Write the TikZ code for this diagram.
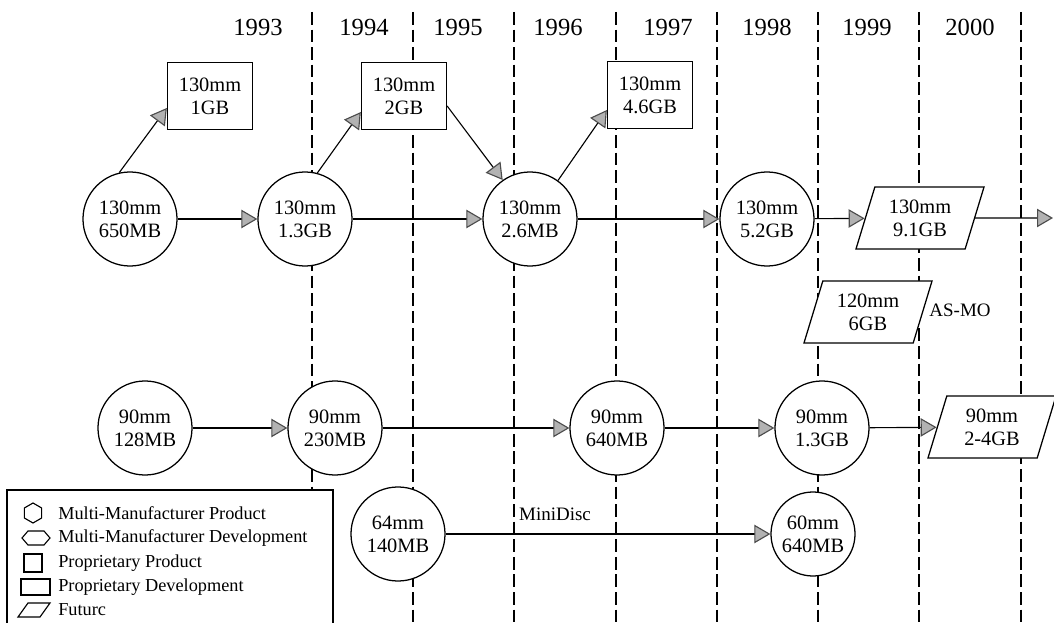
\documentclass[tikz,border=0pt]{standalone}
\usepackage{fontspec}
\setmainfont{Liberation Serif}
\usetikzlibrary{arrows.meta,shapes.geometric}

\begin{document}
\begin{tikzpicture}[x=0.025cm, y=-0.025cm,
    disc/.style={circle, draw, line width=0.9pt, fill=white, minimum size=2.35cm,
      inner sep=0pt, align=center, font=\fontsize{14.5}{16.5}\selectfont},
    propbox/.style={rectangle, draw, line width=0.9pt, fill=white, minimum width=2.125cm,
      minimum height=1.675cm, inner sep=0pt, align=center, font=\fontsize{14.5}{16.5}\selectfont},
    future/.style={trapezium, trapezium left angle=63, trapezium right angle=117,
      trapezium stretches body, draw, line width=0.9pt, fill=white, minimum width=3.2cm,
      minimum height=1.55cm, inner sep=0pt, align=center, font=\fontsize{14.5}{16.5}\selectfont},
    flow/.style={line width=0.8pt, -{Triangle[length=0.4cm, width=0.46cm, color=gray!60!black, fill=gray!60]}},
    yearline/.style={line width=0.8pt, dash pattern=on 9pt off 3.5pt},
    yearlabel/.style={font=\fontsize{17.5}{20}\selectfont},
    note/.style={font=\fontsize{13.5}{15}\selectfont},
    legendtext/.style={anchor=west, inner sep=0pt, font=\fontsize{13}{15}\selectfont}]
  \clip (0,0) rectangle (1054,623);
  \foreach \x in {312,413,514,616,717,818,919,1021}
    \draw[yearline] (\x,12) -- (\x,623);
  \foreach \yr/\x in {1993/258,1994/364,1995/458,1996/558,1997/668,1998/767,1999/867,2000/970}
    \node[yearlabel] (y\yr) at (\x,27) {\yr};

  \node[disc] (c1) at (130,219) {130mm\\650MB};
  \node[disc] (c2) at (305,219) {130mm\\1.3GB};
  \node[disc] (c3) at (530,219) {130mm\\2.6MB};
  \node[disc] (c4) at (767,219) {130mm\\5.2GB};
  \node[future] (p1) at (920,218) {130mm\\9.1GB};
  \coordinate (off) at (1053,218);
  \node[propbox] (b1) at (210,96) {130mm\\1GB};
  \node[propbox] (b2) at (404,96) {130mm\\2GB};
  \node[propbox] (b3) at (650,95) {130mm\\4.6GB};

  \node[future] (p2) at (868,312) {120mm\\6GB};
  \node[note] (asmo) at (960,310) {AS-MO};

  \node[disc] (d1) at (145,428) {90mm\\128MB};
  \node[disc] (d2) at (335,428) {90mm\\230MB};
  \node[disc] (d3) at (617,428) {90mm\\640MB};
  \node[disc] (d4) at (822,428) {90mm\\1.3GB};
  \node[future] (p3) at (992,427) {90mm\\2-4GB};

  \node[disc] (e1) at (398,534) {64mm\\140MB};
  \node[disc, minimum size=2.1cm] (e2) at (813,534) {60mm\\640MB};
  \node[note] (mini) at (555,514) {MiniDisc};

  \draw[flow] (c1) -- (c2);
  \draw[flow] (c2) -- (c3);
  \draw[flow] (c3) -- (c4);
  \draw[flow] (c4) -- (p1);
  \draw[flow] (p1) -- (off);
  \draw[flow] (c1.103) -- ([yshift=-0.3cm]b1.west);
  \draw[flow] (c2.75) -- ([yshift=-0.4cm]b2.west);
  \draw[flow] ([yshift=-0.25cm]b2.east) -- (c3.125);
  \draw[flow] (c3.54) -- ([yshift=-0.375cm]b3.west);
  \draw[flow] (d1) -- (d2);
  \draw[flow] (d2) -- (d3);
  \draw[flow] (d3) -- (d4);
  \draw[flow] (d4) -- (p3);
  \draw[flow] (e1) -- (e2);

  \draw[line width=0.9pt, fill=white] (7,490) rectangle (333,640);
  \node[regular polygon, regular polygon sides=6, shape border rotate=30, draw, line width=0.8pt,
    minimum size=0.5cm, inner sep=0pt] (k1) at (33,513) {};
  \draw[line width=0.8pt] (22,538) -- (28,531) -- (44,531) -- (50,538) -- (44,545) -- (28,545) -- cycle;
  \draw[line width=0.8pt] (24,554) rectangle (42,572);
  \draw[line width=0.8pt] (21,579) rectangle (50,595);
  \draw[line width=0.8pt] (18,617) -- (28,603) -- (50,603) -- (40,617) -- cycle;
  \node[legendtext] (l1) at (58,513) {Multi-Manufacturer Product};
  \node[legendtext] (l2) at (58,538) {Multi-Manufacturer Development};
  \node[legendtext] (l3) at (58,563) {Proprietary Product};
  \node[legendtext] (l4) at (58,587) {Proprietary Development};
  \node[legendtext] (l5) at (58,610) {Futurc};
\end{tikzpicture}
\end{document}
